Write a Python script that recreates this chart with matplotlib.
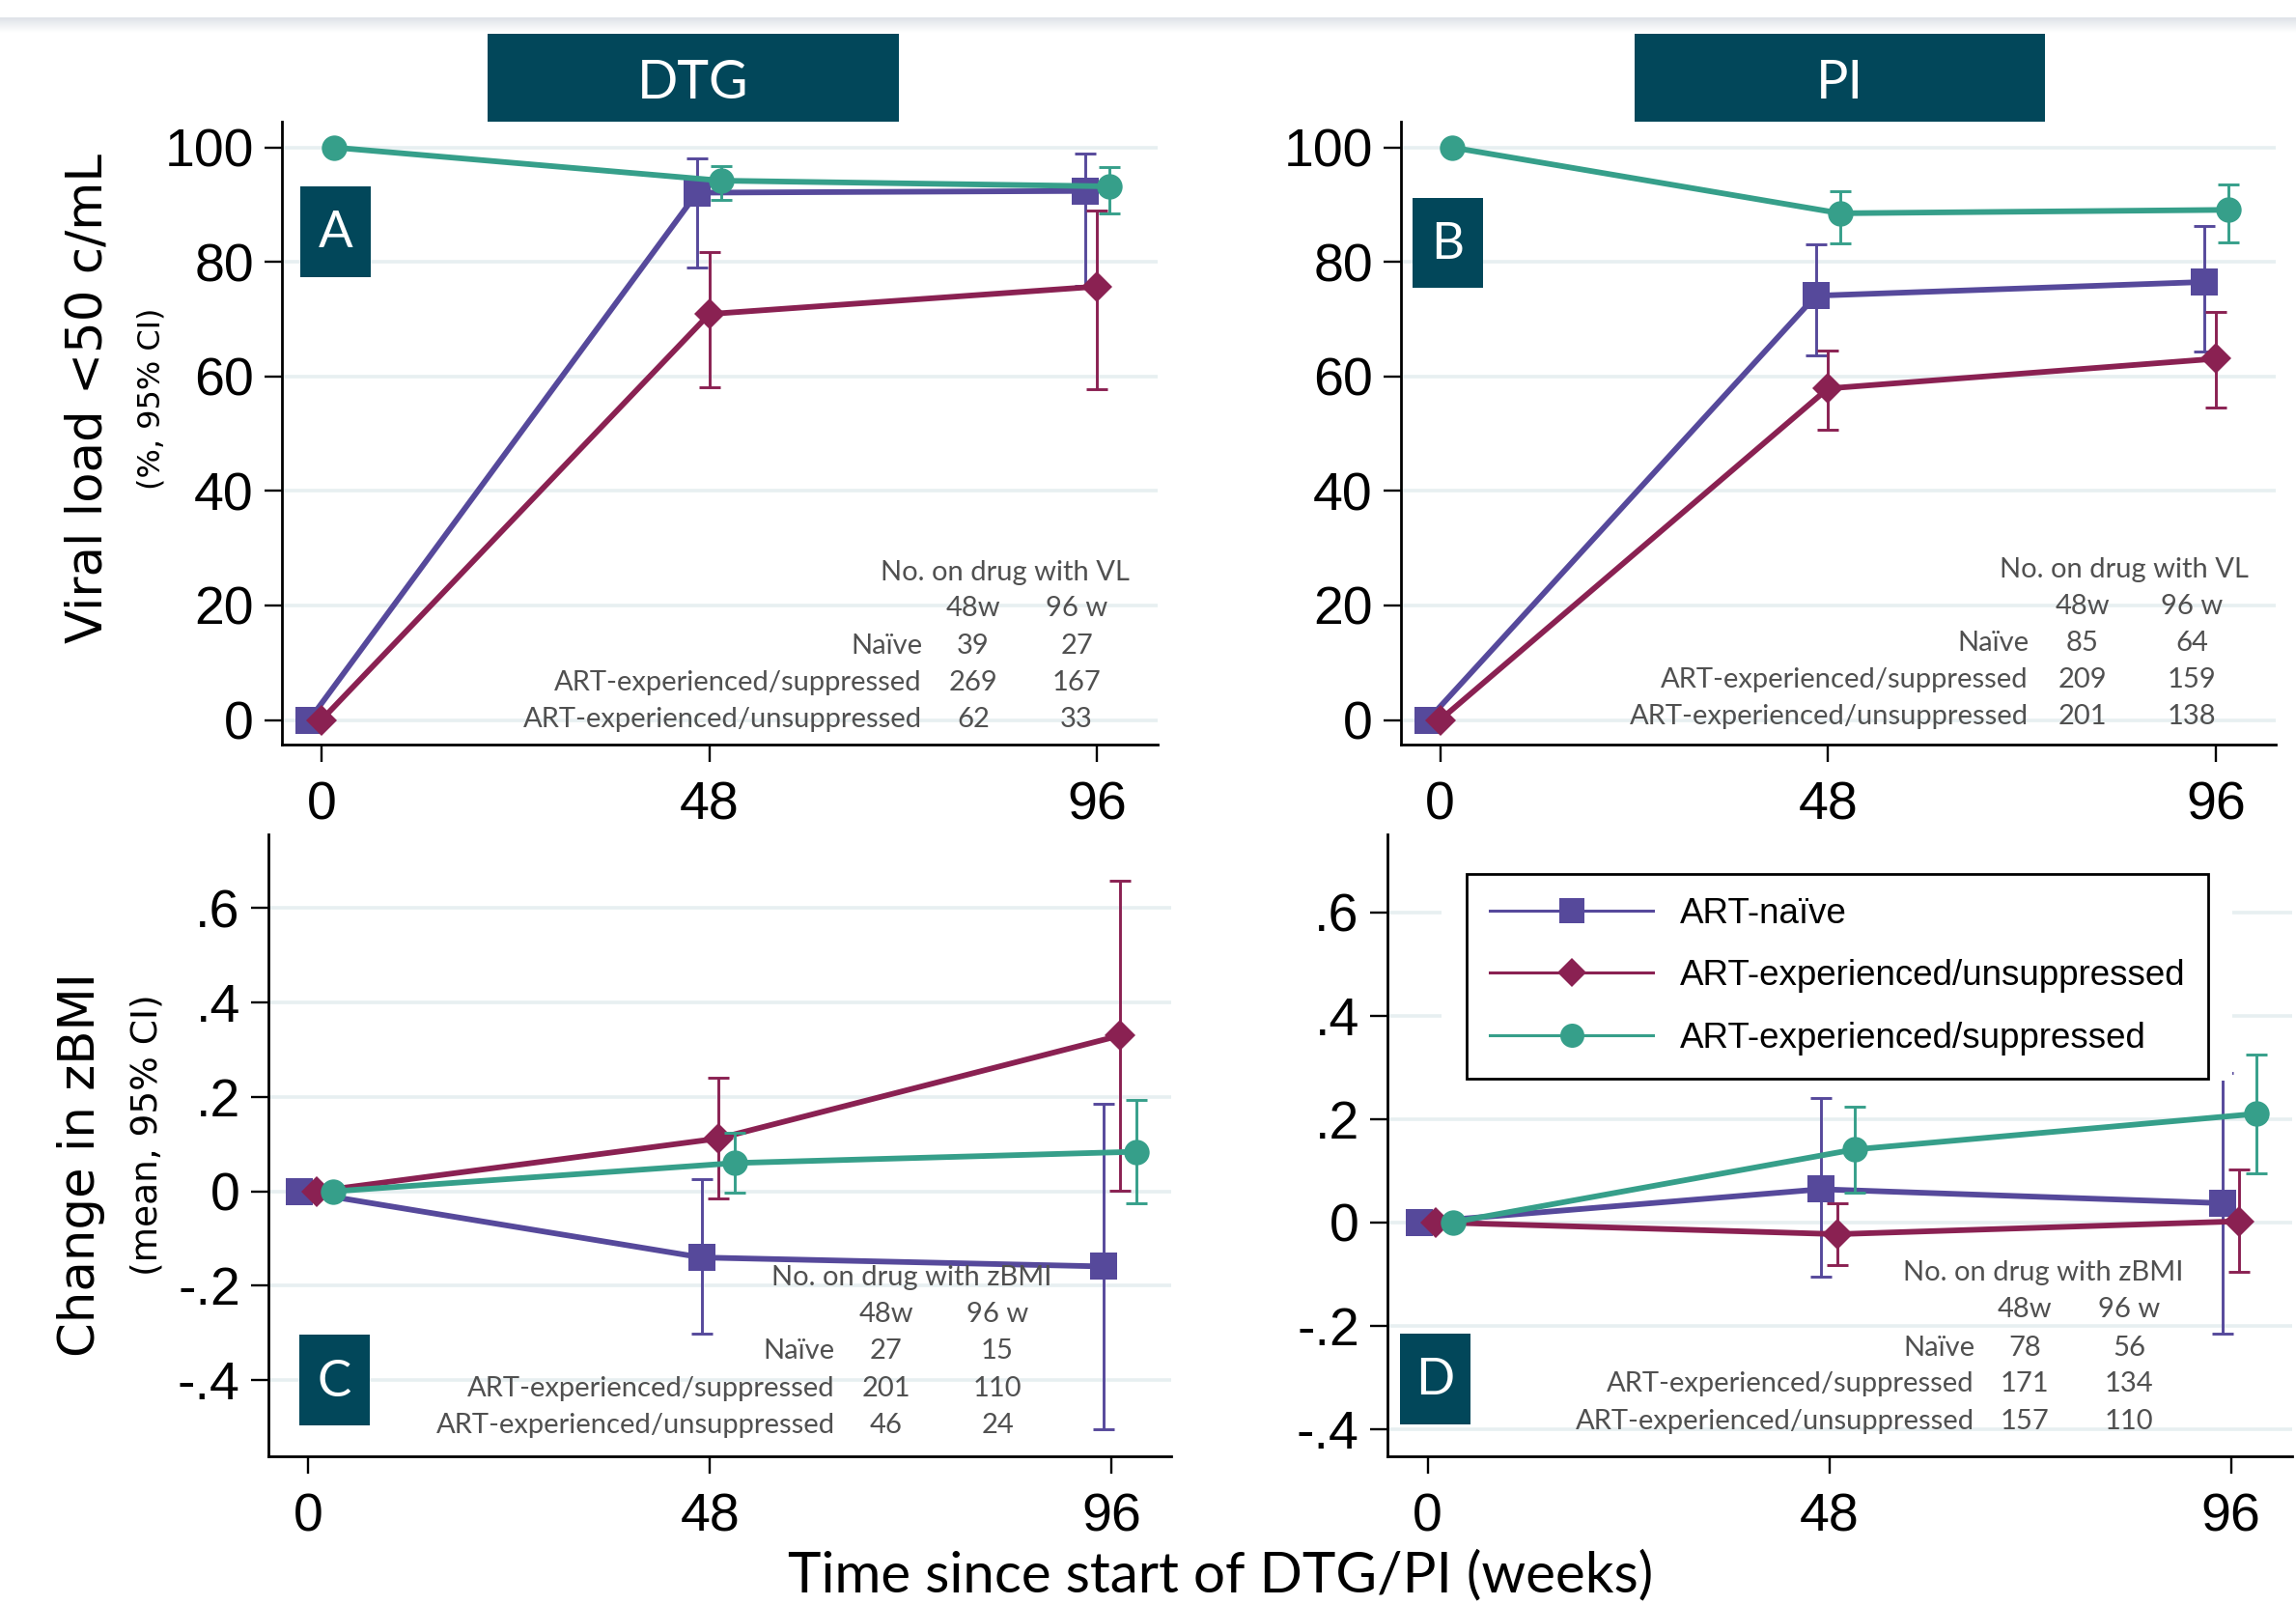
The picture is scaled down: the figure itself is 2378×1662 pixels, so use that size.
import numpy as np
import matplotlib
matplotlib.use("Agg")
import matplotlib.pyplot as plt
from matplotlib.patches import Rectangle
from matplotlib.lines import Line2D

W, H = 2378, 1662

weeks = [0, 48, 96]
groups = ["ART-naïve", "ART-experienced/unsuppressed", "ART-experienced/suppressed"]
table_rows = ["Naïve", "ART-experienced/suppressed", "ART-experienced/unsuppressed"]

# A: DTG, viral load <50 (%), estimate + 95% CI at 48 and 96 w
dtg_vl_naive = [0, 92.1, 92.4]
dtg_vl_naive_lo = [79.1, 75.9]
dtg_vl_naive_hi = [98.1, 98.9]
dtg_vl_unsup = [0, 70.9, 75.7]
dtg_vl_unsup_lo = [58.1, 57.8]
dtg_vl_unsup_hi = [81.8, 88.9]
dtg_vl_sup = [100, 94.2, 93.2]
dtg_vl_sup_lo = [90.8, 88.4]
dtg_vl_sup_hi = [96.8, 96.6]

# B: PI, viral load
pi_vl_naive = [0, 74.1, 76.5]
pi_vl_naive_lo = [63.7, 64.3]
pi_vl_naive_hi = [83.1, 86.2]
pi_vl_unsup = [0, 57.9, 63.1]
pi_vl_unsup_lo = [50.7, 54.5]
pi_vl_unsup_hi = [64.5, 71.2]
pi_vl_sup = [100, 88.5, 89.1]
pi_vl_sup_lo = [83.3, 83.4]
pi_vl_sup_hi = [92.4, 93.5]

# C: DTG, change in zBMI
dtg_bmi_naive = [0, -0.140, -0.159]
dtg_bmi_naive_lo = [-0.302, -0.503]
dtg_bmi_naive_hi = [0.026, 0.186]
dtg_bmi_unsup = [0, 0.112, 0.330]
dtg_bmi_unsup_lo = [-0.014, 0.002]
dtg_bmi_unsup_hi = [0.241, 0.657]
dtg_bmi_sup = [0, 0.060, 0.084]
dtg_bmi_sup_lo = [-0.003, -0.026]
dtg_bmi_sup_hi = [0.124, 0.194]

# D: PI, change in zBMI
pi_bmi_naive = [0, 0.064, 0.037]
pi_bmi_naive_lo = [-0.106, -0.216]
pi_bmi_naive_hi = [0.240, 0.290]
pi_bmi_unsup = [0, -0.023, 0.002]
pi_bmi_unsup_lo = [-0.082, -0.095]
pi_bmi_unsup_hi = [0.037, 0.102]
pi_bmi_sup = [0, 0.141, 0.210]
pi_bmi_sup_lo = [0.058, 0.095]
pi_bmi_sup_hi = [0.223, 0.324]

# numbers on drug (rows: naive, suppressed, unsuppressed)
dtg_vl_n48 = [39, 269, 62]
dtg_vl_n96 = [27, 167, 33]
pi_vl_n48 = [85, 209, 201]
pi_vl_n96 = [64, 159, 138]
dtg_bmi_n48 = [27, 201, 46]
dtg_bmi_n96 = [15, 110, 24]
pi_bmi_n48 = [78, 171, 157]
pi_bmi_n96 = [56, 134, 110]

vl_ticks = [0, 20, 40, 60, 80, 100]
bmi_ticks = [-0.4, -0.2, 0, 0.2, 0.4, 0.6]
bmi_ticklabels = ["-.4", "-.2", "0", ".2", ".4", ".6"]

PURPLE = "#56499b"
MAROON = "#8a2152"
TEAL = "#369f8a"
BOX = "#02475a"
GRID = "#e7eff1"
TABLE_C = "#505050"

TICK_FONT = ["Liberation Sans", "DejaVu Sans"]
LABEL_FONT = ["DejaVu Sans"]
TEXT_FONT = ["Lato", "DejaVu Sans"]

fig = plt.figure(figsize=(W / 100, H / 100), dpi=100)


def px_axes(l, t, r, b):
    return fig.add_axes([l / W, 1 - b / H, (r - l) / W, (b - t) / H])


def ftext(x, y, s, **kw):
    return fig.text(x / W, 1 - y / H, s, **kw)


def fbox(l, t, r, b, color):
    fig.patches.append(Rectangle((l / W, 1 - b / H), (r - l) / W, (b - t) / H,
                                 transform=fig.transFigure, color=color, lw=0, zorder=3))


# faint shaded band at the top
band = fig.add_axes([0, 1 - 34 / H, 1, 16 / H])
band.imshow(np.linspace(0, 1, 20).reshape(-1, 1), aspect="auto",
            cmap=matplotlib.colors.LinearSegmentedColormap.from_list("b", ["#dfe3e8", "#ffffff"]))
band.axis("off")


def style_axes(ax, xlim, ylim, yticks, yticklabels=None):
    ax.set_xlim(*xlim)
    ax.set_ylim(*ylim)
    ax.set_xticks(weeks)
    ax.set_yticks(yticks)
    if yticklabels is not None:
        ax.set_yticklabels(yticklabels)
    for s in ["top", "right"]:
        ax.spines[s].set_visible(False)
    for s in ["left", "bottom"]:
        ax.spines[s].set_linewidth(2.0)
    ax.tick_params(length=13, width=1.7, labelsize=40)
    ax.tick_params(axis="x", pad=14)
    ax.tick_params(axis="y", pad=8)
    for lab in ax.get_xticklabels() + ax.get_yticklabels():
        lab.set_family(TICK_FONT)
    ax.grid(axis="y", color=GRID, lw=2.6, zorder=0)
    ax.set_axisbelow(True)


def draw_series(ax, est, lo, hi, color, marker, ms, off, z):
    x = [w + off for w in weeks]
    err_lo = [e - l for e, l in zip(est[1:], lo)]
    err_hi = [h - e for e, h in zip(est[1:], hi)]
    ax.errorbar(x[1:], est[1:], yerr=[err_lo, err_hi], fmt="none", ecolor=color,
                elinewidth=2.1, capsize=8, capthick=2.1, zorder=z)
    ax.plot(x, est, color=color, lw=4.2, marker=marker, ms=ms, mew=0, zorder=z + 0.1,
            solid_capstyle="round")


def draw_table(title, n48, n96, title_r, label_r, c1, c2, ys):
    kw = dict(family=TEXT_FONT, fontsize=21, color=TABLE_C, va="baseline", zorder=6)
    ftext(title_r, ys[0], title, ha="right", **kw)
    ftext(c1, ys[1], "48w", ha="center", **kw)
    ftext(c2, ys[1], "96 w", ha="center", **kw)
    for i, row in enumerate(table_rows):
        ftext(label_r, ys[i + 2], row, ha="right", **kw)
        ftext(c1, ys[i + 2], str(n48[i]), ha="center", **kw)
        ftext(c2, ys[i + 2], str(n96[i]), ha="center", **kw)


markers = [("s", 19.5), ("D", 16.5), ("o", 19)]
colors = [PURPLE, MAROON, TEAL]

# ---- A
axA = px_axes(292, 126, 1199, 771)
style_axes(axA, (-4.9, 103.5), (-4.3, 104.5), vl_ticks)
for k, (e, lo, hi) in enumerate([(dtg_vl_naive, dtg_vl_naive_lo, dtg_vl_naive_hi),
                                 (dtg_vl_unsup, dtg_vl_unsup_lo, dtg_vl_unsup_hi),
                                 (dtg_vl_sup, dtg_vl_sup_lo, dtg_vl_sup_hi)]):
    draw_series(axA, e, lo, hi, colors[k], markers[k][0], markers[k][1], [-1.5, 0, 1.5][k], 2 + k)

# ---- B
axB = px_axes(1451, 126, 2357, 771)
style_axes(axB, (-4.84, 103.4), (-4.3, 104.5), vl_ticks)
for k, (e, lo, hi) in enumerate([(pi_vl_naive, pi_vl_naive_lo, pi_vl_naive_hi),
                                 (pi_vl_unsup, pi_vl_unsup_lo, pi_vl_unsup_hi),
                                 (pi_vl_sup, pi_vl_sup_lo, pi_vl_sup_hi)]):
    draw_series(axB, e, lo, hi, colors[k], markers[k][0], markers[k][1], [-1.5, 0, 1.5][k], 2 + k)

# ---- C
axC = px_axes(278, 864, 1213, 1508)
style_axes(axC, (-4.74, 103.1), (-0.561, 0.756), bmi_ticks, bmi_ticklabels)
for k, (e, lo, hi) in enumerate([(dtg_bmi_naive, dtg_bmi_naive_lo, dtg_bmi_naive_hi),
                                 (dtg_bmi_unsup, dtg_bmi_unsup_lo, dtg_bmi_unsup_hi),
                                 (dtg_bmi_sup, dtg_bmi_sup_lo, dtg_bmi_sup_hi)]):
    draw_series(axC, e, lo, hi, colors[k], markers[k][0], markers[k][1], [-1, 1, 3][k], 2 + k)

# ---- D
axD = px_axes(1437, 864, 2374, 1508)
style_axes(axD, (-4.8, 103.3), (-0.453, 0.751), bmi_ticks, bmi_ticklabels)
for k, (e, lo, hi) in enumerate([(pi_bmi_naive, pi_bmi_naive_lo, pi_bmi_naive_hi),
                                 (pi_bmi_unsup, pi_bmi_unsup_lo, pi_bmi_unsup_hi),
                                 (pi_bmi_sup, pi_bmi_sup_lo, pi_bmi_sup_hi)]):
    draw_series(axD, e, lo, hi, colors[k], markers[k][0], markers[k][1], [-1, 1, 3][k], 2 + k)

# legend with its white surround
axD.add_patch(Rectangle((1493 / W, 1 - 1119 / H), (2312 - 1493) / W, (1119 - 885) / H,
                        transform=fig.transFigure, color="white", lw=0, zorder=4.8, clip_on=False))
handles = [Line2D([], [], color=colors[k], lw=2.2, marker=markers[k][0], ms=markers[k][1] - 1, mew=0)
           for k in range(3)]
leg = axD.legend(handles, groups, loc="upper left", bbox_to_anchor=(1519 / W, 1 - 905 / H),
                 bbox_transform=fig.transFigure, borderaxespad=0, frameon=True, fancybox=False,
                 framealpha=1, edgecolor="black", handlelength=4.6, handletextpad=0.75,
                 labelspacing=0.8, borderpad=0.65, prop={"family": TICK_FONT, "size": 26.5})
leg.get_frame().set_linewidth(2.0)
leg.set_zorder(5)

# tables of numbers
draw_table("No. on drug with VL", dtg_vl_n48, dtg_vl_n96, 1170, 955, 1008, 1115,
           [601, 638, 677, 715, 753])
draw_table("No. on drug with VL", pi_vl_n48, pi_vl_n96, 2329, 2101, 2157, 2270,
           [598, 636, 674, 712, 750])
draw_table("No. on drug with zBMI", dtg_bmi_n48, dtg_bmi_n96, 1089, 865, 918, 1033,
           [1331, 1369, 1407, 1446, 1484])
draw_table("No. on drug with zBMI", pi_bmi_n48, pi_bmi_n96, 2261, 2045, 2097, 2205,
           [1326, 1364, 1404, 1441, 1480])

# header boxes
fbox(505, 35, 931, 126, BOX)
fbox(1693, 35, 2118, 126, BOX)
ftext(718, 86, "DTG", family=TEXT_FONT, fontsize=40, color="white", ha="center", va="center", zorder=4)
ftext(1905, 86, "PI", family=TEXT_FONT, fontsize=40, color="white", ha="center", va="center", zorder=4)

# panel letters
for l, t, r, b, s in [(311, 193, 384, 287, "A"), (1463, 205, 1536, 298, "B"),
                      (310, 1382, 383, 1476, "C"), (1450, 1381, 1523, 1475, "D")]:
    fbox(l, t, r, b, BOX)
    ftext((l + r) / 2, (t + b) / 2 + 2, s, family=TEXT_FONT, fontsize=38, color="white",
          ha="center", va="center", zorder=4)

# axis titles
ftext(91, 413, "Viral load <50 c/mL", family=LABEL_FONT, fontsize=37, rotation=90,
      ha="center", va="center")
ftext(157, 413, "(%, 95% CI)", family=LABEL_FONT, fontsize=23, rotation=90,
      ha="center", va="center")
ftext(84, 1206, "Change in zBMI", family=LABEL_FONT, fontsize=37, rotation=90,
      ha="center", va="center")
ftext(153, 1175, "(mean, 95% CI)", family=LABEL_FONT, fontsize=27, rotation=90,
      ha="center", va="center")
ftext(1264, 1648, "Time since start of DTG/PI (weeks)", family=TEXT_FONT, fontsize=42,
      ha="center", va="baseline")

fig.savefig("out.png", dpi=100)
